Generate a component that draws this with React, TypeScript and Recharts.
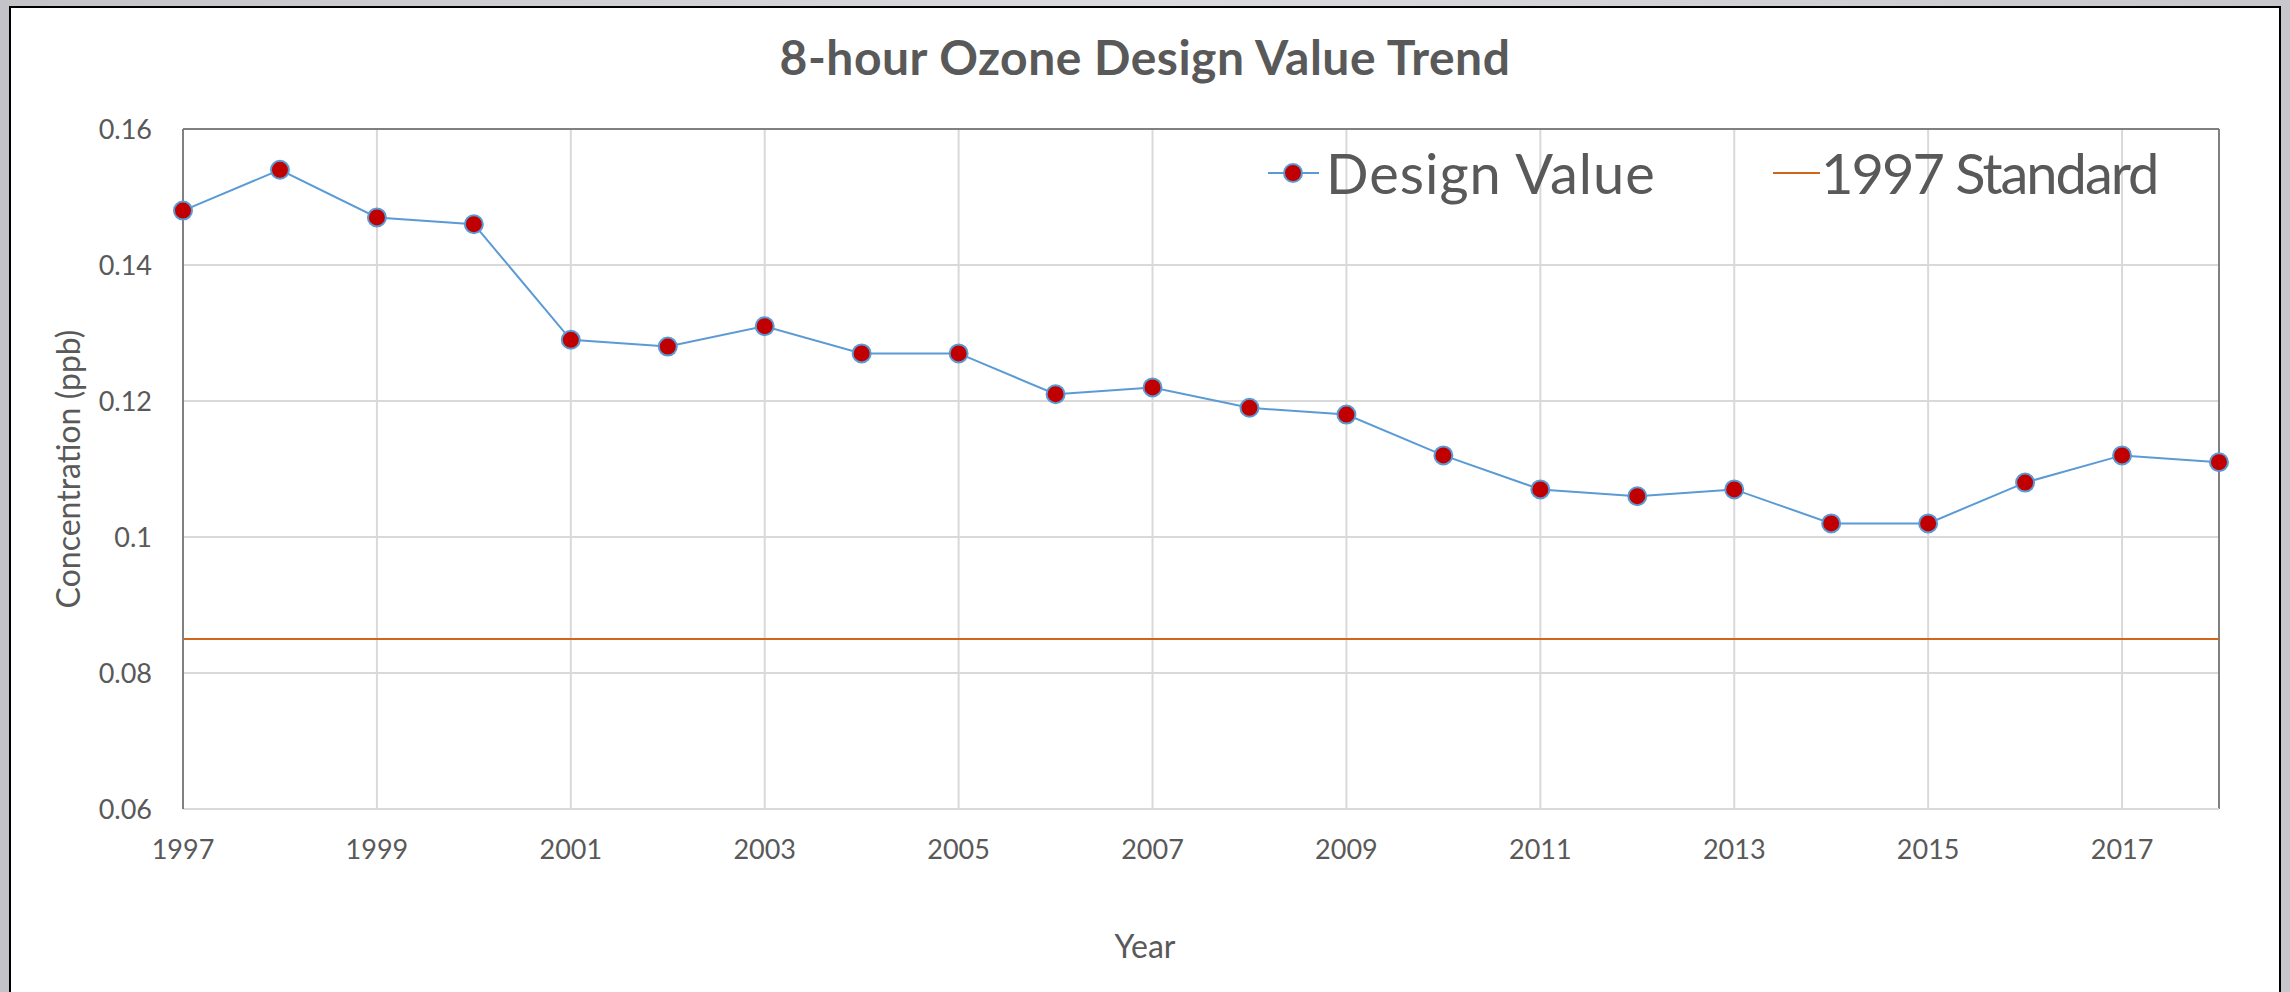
import React from 'react';
import { LineChart, Line, XAxis, YAxis, CartesianGrid, ReferenceLine, Legend, Label } from 'recharts';

const years = [1997, 1998, 1999, 2000, 2001, 2002, 2003, 2004, 2005, 2006, 2007, 2008, 2009, 2010, 2011, 2012, 2013, 2014, 2015, 2016, 2017, 2018];
const designValues = [0.148, 0.154, 0.147, 0.146, 0.129, 0.128, 0.131, 0.127, 0.127, 0.121, 0.122, 0.119, 0.118, 0.112, 0.107, 0.106, 0.107, 0.102, 0.102, 0.108, 0.112, 0.111];
const standardValue = 0.085;
const xTicks = [1997, 1999, 2001, 2003, 2005, 2007, 2009, 2011, 2013, 2015, 2017];
const yTicks = [0.06, 0.08, 0.1, 0.12, 0.14, 0.16];

const TITLE = '8-hour Ozone Design Value Trend';
const SERIES_NAME = 'Design Value';
const STANDARD_NAME = '1997 Standard';
const X_LABEL = 'Year';
const Y_LABEL = 'Concentration (ppb)';

const data = years.map((y, i) => ({ year: y, value: designValues[i], standard: standardValue }));

const FONT = 'Lato, "Open Sans", sans-serif';
const TEXT = '#595959';
const BLUE = '#5B9BD5';
const RED = '#C00000';
const ORANGE = '#D0651E';
const GRID = '#d9d9d9';
const BORDER = '#808080';

const LegendContent = () => (
  <div style={{ position: 'relative', width: 950, height: 66, fontFamily: FONT, fontSize: 56, color: TEXT, lineHeight: '66px' }}>
    <div style={{ position: 'absolute', left: 0, top: 0, display: 'flex', alignItems: 'center', whiteSpace: 'nowrap' }}>
      <svg width={51} height={66} style={{ display: 'block' }}>
        <line x1={0} y1={33} x2={51} y2={33} stroke={BLUE} strokeWidth={2} />
        <circle cx={25} cy={33} r={9} fill={RED} stroke={BLUE} strokeWidth={2} />
      </svg>
      <span style={{ marginLeft: 7, letterSpacing: 1 }}>{SERIES_NAME}</span>
    </div>
    <div style={{ position: 'absolute', left: 505, top: 0, display: 'flex', alignItems: 'center', whiteSpace: 'nowrap' }}>
      <svg width={47} height={66} style={{ display: 'block' }}>
        <line x1={0} y1={33} x2={47} y2={33} stroke={ORANGE} strokeWidth={2} />
      </svg>
      <span style={{ marginLeft: 1, letterSpacing: -2 }}>{STANDARD_NAME}</span>
    </div>
  </div>
);

export default function App() {
  return (
    <div style={{ position: 'fixed', left: 0, top: 0, width: 2290, height: 992, background: 'linear-gradient(90deg, #c4c4c8 0%, #dcdce0 50%, #c8c8cc 100%)', overflow: 'hidden' }}>
      <div style={{ position: 'absolute', left: 9, top: 6, width: 2268, height: 1000, border: '2px solid #000', background: '#fff' }} />
      <div style={{ position: 'absolute', left: 0, top: 33, width: 2290, textAlign: 'center', fontFamily: FONT, fontWeight: 700, fontSize: 48, lineHeight: '48px', letterSpacing: 0.5, color: TEXT }}>
        {TITLE}
      </div>
      <div style={{ position: 'absolute', left: 0, top: 0 }}>
        <LineChart width={2290} height={992} data={data} margin={{ top: 63, right: 71, bottom: 123, left: 83 }}>
          <CartesianGrid stroke={GRID} strokeWidth={2} />
          <XAxis
            dataKey="year"
            type="number"
            domain={[1997, 2018]}
            ticks={xTicks}
            interval={0}
            axisLine={{ stroke: GRID, strokeWidth: 2 }}
            tickLine={false}
            tickSize={0}
            tickMargin={31}
            height={60}
            tick={{ fill: TEXT, fontSize: 27, fontFamily: FONT }}
          >
            <Label value={X_LABEL} position="bottom" offset={66} dx={-56} fill={TEXT} fontSize={32} fontFamily={FONT} />
          </XAxis>
          <YAxis
            type="number"
            domain={[0.06, 0.16]}
            ticks={yTicks}
            interval={0}
            width={100}
            axisLine={{ stroke: BORDER, strokeWidth: 2 }}
            tickLine={false}
            tickSize={0}
            tickMargin={31}
            tickFormatter={(v: number) => String(v)}
            tick={{ fill: TEXT, fontSize: 27, fontFamily: FONT }}
          >
            <Label
              content={(props: any) => {
                const vb = props.viewBox || { x: 83, y: 129, width: 100, height: 680 };
                const cx = vb.x - 3;
                const cy = vb.y + vb.height / 2;
                return (
                  <text x={cx} y={cy} transform={`rotate(-90 ${cx} ${cy})`} textAnchor="middle" fill={TEXT} fontSize={32} fontFamily={FONT}>
                    {Y_LABEL}
                  </text>
                );
              }}
            />
          </YAxis>
          <ReferenceLine y={0.16} stroke={BORDER} strokeWidth={2} ifOverflow="extendDomain" />
          <ReferenceLine x={2018} stroke={BORDER} strokeWidth={2} ifOverflow="extendDomain" />
          <Legend
            verticalAlign="top"
            align="left"
            wrapperStyle={{ position: 'absolute', left: 1268, top: 140, width: 950, height: 66 }}
            content={() => <LegendContent />}
          />
          <Line
            dataKey="standard"
            name={STANDARD_NAME}
            stroke={ORANGE}
            strokeWidth={2}
            dot={false}
            activeDot={false}
            isAnimationActive={false}
          />
          <Line
            dataKey="value"
            name={SERIES_NAME}
            stroke={BLUE}
            strokeWidth={2}
            dot={{ r: 9, fill: RED, stroke: BLUE, strokeWidth: 2 }}
            activeDot={false}
            isAnimationActive={false}
          />
        </LineChart>
      </div>
    </div>
  );
}
